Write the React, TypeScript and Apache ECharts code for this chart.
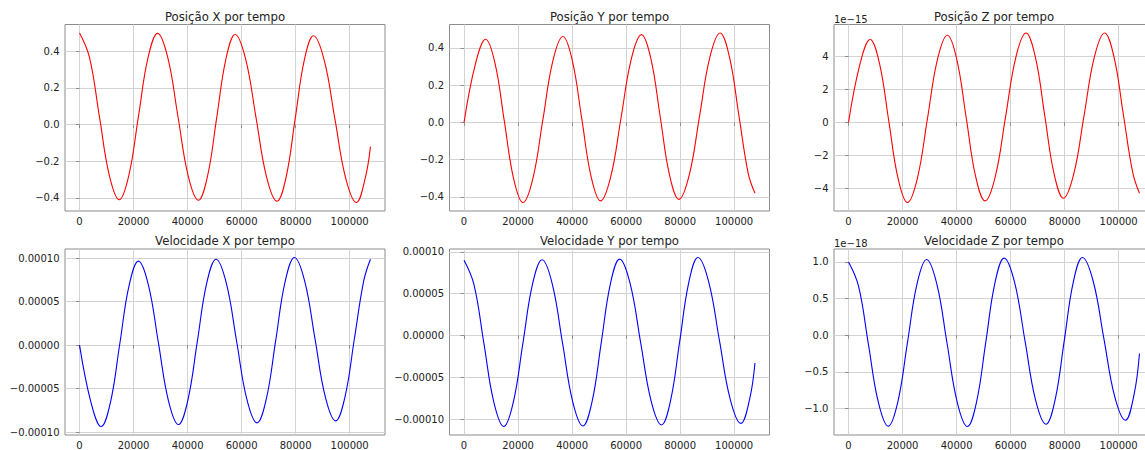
import React, { useEffect, useRef } from "react";
import * as echarts from "echarts";

// Time samples (shared by Posição X, Velocidade Y, Velocidade Z)
const timesA = [0, 3675, 7350, 11025, 14700, 18250, 21800, 25350, 28900, 32675, 36450, 40225, 44000, 47400, 50800, 54200, 57600, 61475, 65350, 69225, 73100, 76475, 79850, 83225, 86600, 90575, 94550, 98525, 102500, 105750, 107700];
// Time samples (shared by Posição Y, Posição Z, Velocidade X)
const timesB = [0, 4250, 8000, 11450, 14900, 18350, 21800, 25500, 29200, 32900, 36600, 40090, 43580, 47060, 50550, 54340, 58130, 61910, 65700, 69170, 72640, 76100, 79570, 83380, 87190, 90990, 94800, 98275, 101750, 105225, 107700];

const posX = [0.5, 0.367, 0.045, -0.277, -0.41, -0.277, 0.044, 0.365, 0.498, 0.365, 0.043, -0.28, -0.413, -0.28, 0.04, 0.359, 0.492, 0.359, 0.037, -0.285, -0.418, -0.286, 0.034, 0.353, 0.485, 0.352, 0.03, -0.292, -0.425, -0.293, -0.12];
const posY = [0, 0.316, 0.446, 0.318, 0.008, -0.302, -0.43, -0.3, 0.016, 0.331, 0.461, 0.332, 0.02, -0.292, -0.421, -0.29, 0.025, 0.34, 0.471, 0.342, 0.029, -0.284, -0.413, -0.282, 0.034, 0.349, 0.48, 0.35, 0.038, -0.275, -0.38];
// Posição Z in units of 1e-15
const posZ = [0, 3.55, 5.02, 3.57, 0.08, -3.41, -4.86, -3.38, 0.21, 3.8, 5.28, 3.81, 0.26, -3.29, -4.76, -3.27, 0.33, 3.93, 5.42, 3.95, 0.41, -3.13, -4.6, -3.13, 0.41, 3.95, 5.42, 3.97, 0.46, -3.05, -4.3];
const velX = [0, -6.61e-5, -9.37e-5, -6.58e-5, 0.16e-5, 6.89e-5, 9.68e-5, 6.92e-5, 0.27e-5, -6.38e-5, -9.14e-5, -6.35e-5, 0.38e-5, 7.11e-5, 9.9e-5, 7.14e-5, 0.48e-5, -6.19e-5, -8.95e-5, -6.16e-5, 0.58e-5, 7.31e-5, 10.1e-5, 7.34e-5, 0.69e-5, -5.96e-5, -8.72e-5, -5.95e-5, 0.74e-5, 7.43e-5, 9.9e-5];
const velY = [9.0e-5, 6.09e-5, -0.95e-5, -7.99e-5, -10.9e-5, -7.98e-5, -0.93e-5, 6.13e-5, 9.05e-5, 6.14e-5, -0.89e-5, -7.92e-5, -10.83e-5, -7.91e-5, -0.85e-5, 6.21e-5, 9.13e-5, 6.22e-5, -0.79e-5, -7.8e-5, -10.71e-5, -7.77e-5, -0.69e-5, 6.39e-5, 9.33e-5, 6.42e-5, -0.6e-5, -7.61e-5, -10.52e-5, -7.6e-5, -3.3e-5];
// Velocidade Z in units of 1e-18
const velZ = [1.0, 0.672, -0.122, -0.915, -1.243, -0.91, -0.105, 0.701, 1.034, 0.7, -0.107, -0.913, -1.247, -0.91, -0.098, 0.715, 1.052, 0.72, -0.082, -0.883, -1.215, -0.882, -0.077, 0.728, 1.061, 0.736, -0.05, -0.836, -1.161, -0.8, -0.25];

const xTicks = [0, 20000, 40000, 60000, 80000, 100000];
const posTicks = [-0.4, -0.2, 0, 0.2, 0.4];
const posZTicks = [-4, -2, 0, 2, 4];
const velTicks = [-0.0001, -0.00005, 0, 0.00005, 0.0001];
const velZTicks = [-1, -0.5, 0, 0.5, 1];

const titles = [
  "Posição X por tempo",
  "Posição Y por tempo",
  "Posição Z por tempo",
  "Velocidade X por tempo",
  "Velocidade Y por tempo",
  "Velocidade Z por tempo",
];
const offsetTexts = ["", "", "1e\u221215", "", "", "1e\u221218"];

const minus = (s: string) => s.replace("-", "\u2212");

const panels = [
  { times: timesA, values: posX, ticks: posTicks, fmt: (v: number) => minus(v.toFixed(1)), color: "#ff0000" },
  { times: timesB, values: posY, ticks: posTicks, fmt: (v: number) => minus(v.toFixed(1)), color: "#ff0000" },
  { times: timesB, values: posZ, ticks: posZTicks, fmt: (v: number) => minus(v.toFixed(0)), color: "#ff0000" },
  { times: timesB, values: velX, ticks: velTicks, fmt: (v: number) => minus(v.toFixed(5)), color: "#0000ff" },
  { times: timesA, values: velY, ticks: velTicks, fmt: (v: number) => minus(v.toFixed(5)), color: "#0000ff" },
  { times: timesA, values: velZ, ticks: velZTicks, fmt: (v: number) => minus(v.toFixed(1)), color: "#0000ff" },
];

const FONT = "DejaVu Sans";
const colLeft = [65, 449.5, 834];
const rowTop = [24.5, 249];
const rowH = [186.5, 186];
const PW = 320;

function buildOption() {
  const grids: any[] = [];
  const xAxes: any[] = [];
  const yAxes: any[] = [];
  const series: any[] = [];
  const graphics: any[] = [];
  panels.forEach((p, i) => {
    const r = Math.floor(i / 3);
    const c = i % 3;
    const left = colLeft[c];
    const top = rowTop[r];
    const h = rowH[r];
    grids.push({ left, top, width: PW, height: h, show: true, borderColor: "#8c8c8c", borderWidth: 1, backgroundColor: "#fff" });
    const tMin = Math.min(...p.times);
    const tMax = Math.max(...p.times);
    const tR = tMax - tMin;
    const vMin = Math.min(...p.values);
    const vMax = Math.max(...p.values);
    const vR = vMax - vMin;
    xAxes.push({
      type: "value",
      gridIndex: i,
      min: tMin - 0.05 * tR,
      max: tMax + 0.05 * tR,
      axisLine: { show: false },
      axisTick: { show: true, length: 3.5, lineStyle: { color: "#8c8c8c" }, customValues: xTicks },
      axisLabel: { customValues: xTicks, color: "#222", fontFamily: FONT, fontSize: 10, margin: 5, formatter: (v: number) => String(v) },
      splitLine: { show: true, lineStyle: { color: "#d3d3d3", width: 1 } },
    });
    yAxes.push({
      type: "value",
      gridIndex: i,
      min: vMin - 0.05 * vR,
      max: vMax + 0.05 * vR,
      axisLine: { show: false },
      axisTick: { show: true, length: 3.5, lineStyle: { color: "#8c8c8c" }, customValues: p.ticks },
      axisLabel: { customValues: p.ticks, color: "#222", fontFamily: FONT, fontSize: 10, margin: 5.5, formatter: p.fmt },
      splitLine: { show: true, lineStyle: { color: "#d3d3d3", width: 1 } },
    });
    series.push({
      type: "line",
      xAxisIndex: i,
      yAxisIndex: i,
      data: p.times.map((t, j) => [t, p.values[j]]),
      showSymbol: false,
      smooth: 0.4,
      lineStyle: { color: p.color, width: 1.1 },
      itemStyle: { color: p.color },
    });
    graphics.push({
      type: "text",
      x: left + PW / 2,
      y: r === 0 ? 16.6 : 241,
      style: { text: titles[i], fill: "#222", font: `11.7px "${FONT}"`, textAlign: "center", textVerticalAlign: "middle" },
    });
    if (offsetTexts[i]) {
      graphics.push({
        type: "text",
        x: left,
        y: r === 0 ? 19 : 243.5,
        style: { text: offsetTexts[i], fill: "#222", font: `10px "${FONT}"`, textAlign: "left", textVerticalAlign: "middle" },
      });
    }
  });
  return {
    animation: false,
    backgroundColor: "#fff",
    textStyle: { fontFamily: FONT },
    grid: grids,
    xAxis: xAxes,
    yAxis: yAxes,
    series,
    graphic: graphics,
  };
}

export default function App() {
  const ref = useRef<HTMLDivElement>(null);
  useEffect(() => {
    if (!ref.current) return;
    const chart = echarts.init(ref.current, null, { renderer: "svg" });
    chart.setOption(buildOption() as any);
    return () => chart.dispose();
  }, []);
  return (
    <div style={{ position: "fixed", left: 0, top: 0, width: 1145, height: 450, overflow: "hidden", background: "#fff" }}>
      <div ref={ref} style={{ width: 1160, height: 450 }} />
    </div>
  );
}
